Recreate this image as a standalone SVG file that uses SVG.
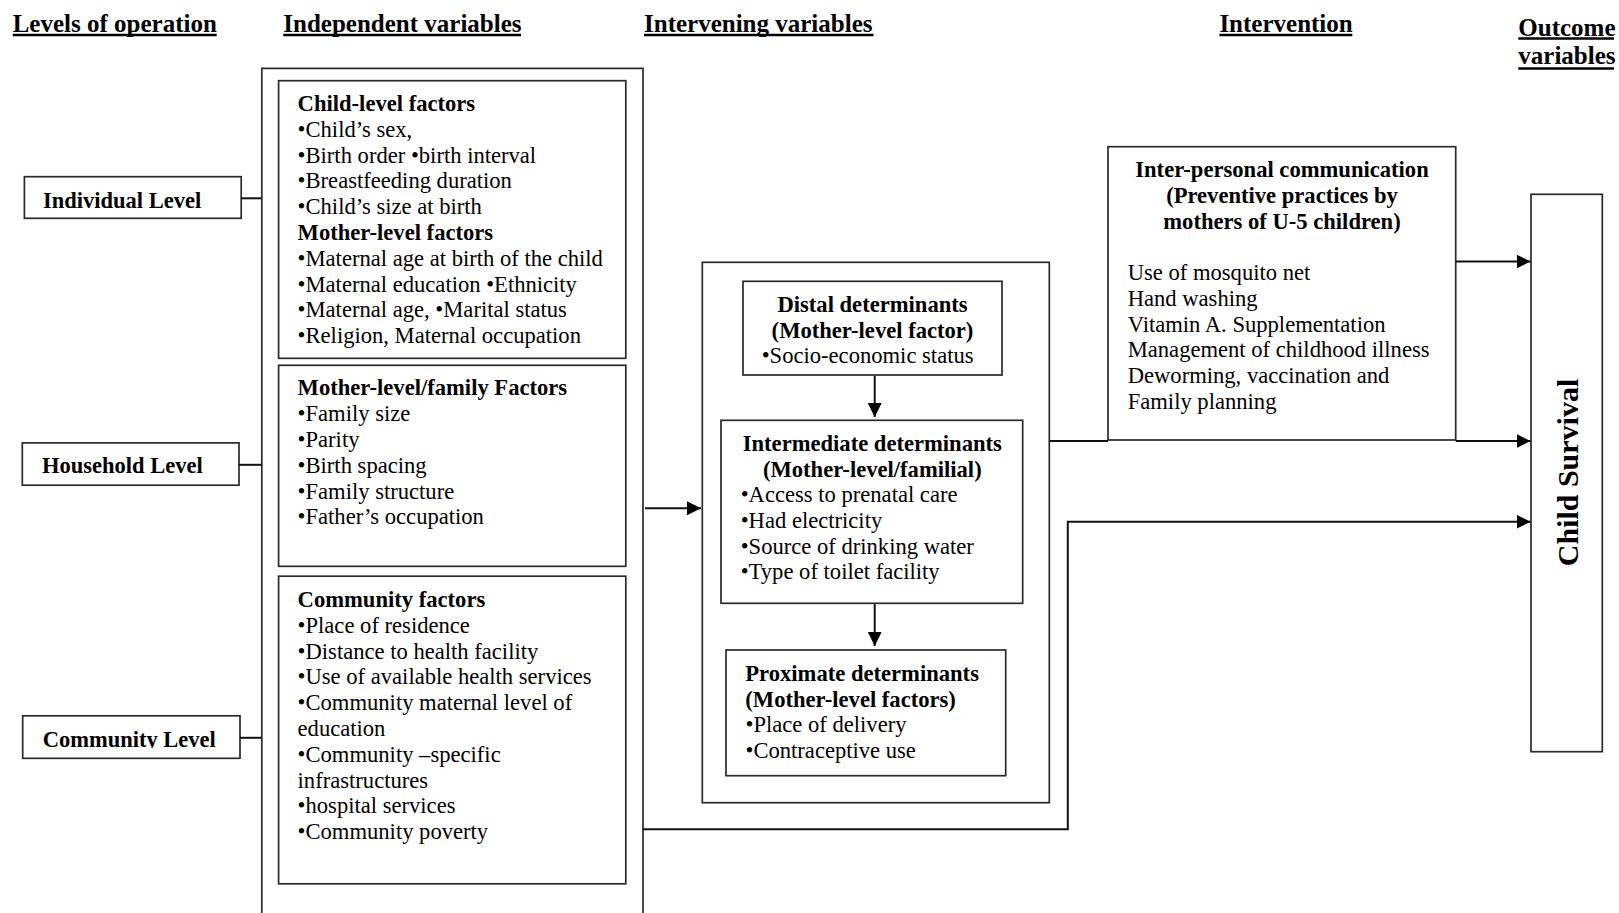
<svg xmlns="http://www.w3.org/2000/svg" width="1619" height="913" viewBox="0 0 1619 913">
  <style>
    .box { fill: #ffffff; stroke: #2a2a2a; stroke-width: 1.7; }
    .frame { fill: none; stroke: #2a2a2a; stroke-width: 1.7; }
    .wire { fill: none; stroke: #111111; stroke-width: 2; }
    .head { font-family: "Liberation Serif", "Times New Roman", serif; font-weight: bold; font-size: 25px; fill: #000; }
    .uline { stroke: #000; stroke-width: 2.5; }
    .lvl { font-family: "Liberation Serif", "Times New Roman", serif; font-weight: bold; font-size: 22.5px; fill: #000; }
    .b { font-family: "Liberation Serif", "Times New Roman", serif; font-weight: bold; font-size: 22.6px; fill: #000; }
    .t { font-family: "Liberation Serif", "Times New Roman", serif; font-size: 22.6px; fill: #000; }
    .mid { text-anchor: middle; }
    .big { font-family: "Liberation Serif", "Times New Roman", serif; font-weight: bold; font-size: 30px; fill: #000; text-anchor: middle; }
  </style>
  <defs>
    <marker id="arrow" viewBox="0 0 14 14" refX="14" refY="7" markerWidth="14" markerHeight="14" markerUnits="userSpaceOnUse" orient="auto">
      <path d="M0,0 L14,7 L0,14 z" fill="#000"/>
    </marker>
    <clipPath id="clipCommunityLevel">
      <rect x="22" y="716" width="218" height="32"/>
    </clipPath>
  </defs>
  <rect width="1619" height="913" fill="#ffffff"/>

  <!-- column headings -->
  <g id="headings">
    <text class="head" x="12.7" y="32.3">Levels of operation</text>
    <line class="uline" x1="12.7" y1="35" x2="216.7" y2="35"/>
    <text class="head" x="283.3" y="32.3">Independent variables</text>
    <line class="uline" x1="283.3" y1="35" x2="521" y2="35"/>
    <text class="head" x="644" y="32.3">Intervening variables</text>
    <line class="uline" x1="644" y1="35" x2="873.5" y2="35"/>
    <text class="head" x="1219.4" y="32.3">Intervention</text>
    <line class="uline" x1="1219.4" y1="35" x2="1352.3" y2="35"/>
    <text class="head" x="1518.3" y="35.7">Outcome</text>
    <line class="uline" x1="1518.3" y1="38.6" x2="1614" y2="38.6"/>
    <text class="head" x="1518.3" y="63.5">variables</text>
    <line class="uline" x1="1518.3" y1="68.6" x2="1614" y2="68.6"/>
  </g>

  <!-- levels of operation -->
  <g id="individual-level">
    <rect class="box" x="24.4" y="176.7" width="216.8" height="41.6"/>
    <text class="lvl" x="43" y="208">Individual Level</text>
  </g>
  <g id="household-level">
    <rect class="box" x="22.3" y="442.9" width="216.7" height="42.3"/>
    <text class="lvl" x="42" y="472.8">Household Level</text>
  </g>
  <g id="community-level">
    <rect class="box" x="22.7" y="715.8" width="217.3" height="42.5"/>
    <text class="lvl" x="42.7" y="746.8" clip-path="url(#clipCommunityLevel)">Community Level</text>
  </g>

  <!-- independent variables: frame open at the bottom edge -->
  <g id="independent-variables">
    <path class="frame" d="M261.8,920 L261.8,68.3 L643,68.3 L643,920"/>
  </g>
  <g id="child-mother-factors">
    <rect class="box" x="278.6" y="80.7" width="347.2" height="277.6"/>
    <text class="b" x="297.6" y="111">Child-level factors</text>
    <text class="t" x="297.6" y="136.8">•Child’s sex,</text>
    <text class="t" x="297.6" y="162.6">•Birth order •birth interval</text>
    <text class="t" x="297.6" y="188.4">•Breastfeeding duration</text>
    <text class="t" x="297.6" y="214.2">•Child’s size at birth</text>
    <text class="b" x="297.6" y="240">Mother-level factors</text>
    <text class="t" x="297.6" y="265.8">•Maternal age at birth of the child</text>
    <text class="t" x="297.6" y="291.6">•Maternal education •Ethnicity</text>
    <text class="t" x="297.6" y="317.4">•Maternal age, •Marital status</text>
    <text class="t" x="297.6" y="343.2">•Religion, Maternal occupation</text>
  </g>
  <g id="family-factors">
    <rect class="box" x="278.6" y="365.3" width="347.2" height="201"/>
    <text class="b" x="297.6" y="395.4">Mother-level/family Factors</text>
    <text class="t" x="297.6" y="421.2">•Family size</text>
    <text class="t" x="297.6" y="447">•Parity</text>
    <text class="t" x="297.6" y="472.8">•Birth spacing</text>
    <text class="t" x="297.6" y="498.6">•Family structure</text>
    <text class="t" x="297.6" y="524.4">•Father’s occupation</text>
  </g>
  <g id="community-factors">
    <rect class="box" x="278.6" y="576.2" width="347.2" height="307.6"/>
    <text class="b" x="297.6" y="607">Community factors</text>
    <text class="t" x="297.6" y="632.8">•Place of residence</text>
    <text class="t" x="297.6" y="658.6">•Distance to health facility</text>
    <text class="t" x="297.6" y="684.4">•Use of available health services</text>
    <text class="t" x="297.6" y="710.2">•Community maternal level of</text>
    <text class="t" x="297.6" y="736">education</text>
    <text class="t" x="297.6" y="761.8">•Community –specific</text>
    <text class="t" x="297.6" y="787.6">infrastructures</text>
    <text class="t" x="297.6" y="813.4">•hospital services</text>
    <text class="t" x="297.6" y="839.2">•Community poverty</text>
  </g>

  <!-- intervening variables -->
  <g id="intervening-variables">
    <rect class="frame" x="702.3" y="262.3" width="347" height="540.4"/>
  </g>
  <g id="distal-determinants">
    <rect class="box" x="743" y="281.3" width="259" height="93.7"/>
    <text class="b mid" x="872.5" y="311.7">Distal determinants</text>
    <text class="b mid" x="872.5" y="337.7">(Mother-level factor)</text>
    <text class="t" x="761.7" y="362.7">•Socio-economic status</text>
  </g>
  <g id="intermediate-determinants">
    <rect class="box" x="721" y="420.3" width="301.7" height="183"/>
    <text class="b mid" x="872.3" y="450.7">Intermediate determinants</text>
    <text class="b mid" x="872.3" y="476.7">(Mother-level/familial)</text>
    <text class="t" x="740.7" y="502">•Access to prenatal care</text>
    <text class="t" x="740.7" y="527.8">•Had electricity</text>
    <text class="t" x="740.7" y="553.6">•Source of drinking water</text>
    <text class="t" x="740.7" y="579.4">•Type of toilet facility</text>
  </g>
  <g id="proximate-determinants">
    <rect class="box" x="726" y="650" width="279.7" height="125.7"/>
    <text class="b" x="745.3" y="681">Proximate determinants</text>
    <text class="b" x="745.3" y="707">(Mother-level factors)</text>
    <text class="t" x="745.5" y="732.2">•Place of delivery</text>
    <text class="t" x="745.5" y="758">•Contraceptive use</text>
  </g>

  <!-- intervention -->
  <g id="intervention">
    <rect class="box" x="1108" y="146.7" width="347.7" height="293.3"/>
    <text class="b mid" x="1282" y="176.7">Inter-personal communication</text>
    <text class="b mid" x="1282" y="203">(Preventive practices by</text>
    <text class="b mid" x="1282" y="229.3">mothers of U-5 children)</text>
    <text class="t" x="1127.7" y="280">Use of mosquito net</text>
    <text class="t" x="1127.7" y="305.8">Hand washing</text>
    <text class="t" x="1127.7" y="331.6">Vitamin A. Supplementation</text>
    <text class="t" x="1127.7" y="357.4">Management of childhood illness</text>
    <text class="t" x="1127.7" y="383.2">Deworming, vaccination and</text>
    <text class="t" x="1127.7" y="409">Family planning</text>
  </g>

  <!-- outcome -->
  <g id="child-survival">
    <rect class="box" x="1531" y="194.3" width="71.3" height="557.4"/>
    <text class="big" transform="translate(1577.5,472.5) rotate(-90)">Child Survival</text>
  </g>

  <!-- connectors, drawn over the boxes -->
  <g id="connectors">
    <line class="wire" x1="241" y1="198.3" x2="262" y2="198.3"/>
    <line class="wire" x1="239" y1="464.8" x2="262" y2="464.8"/>
    <line class="wire" x1="240" y1="737.8" x2="262" y2="737.8"/>
    <line class="wire" x1="645" y1="508.3" x2="701" y2="508.3" marker-end="url(#arrow)"/>
    <line class="wire" x1="874.7" y1="375.8" x2="874.7" y2="417" marker-end="url(#arrow)"/>
    <line class="wire" x1="874.7" y1="604.1" x2="874.7" y2="646" marker-end="url(#arrow)"/>
    <line class="wire" x1="1049.3" y1="441" x2="1108" y2="441"/>
    <line class="wire" x1="1455.7" y1="441" x2="1530.5" y2="441" marker-end="url(#arrow)"/>
    <line class="wire" x1="1455.7" y1="261.5" x2="1530.5" y2="261.5" marker-end="url(#arrow)"/>
    <polyline class="wire" points="643,829.3 1067.8,829.3 1067.8,521.7 1530.5,521.7" marker-end="url(#arrow)"/>
  </g>
</svg>
